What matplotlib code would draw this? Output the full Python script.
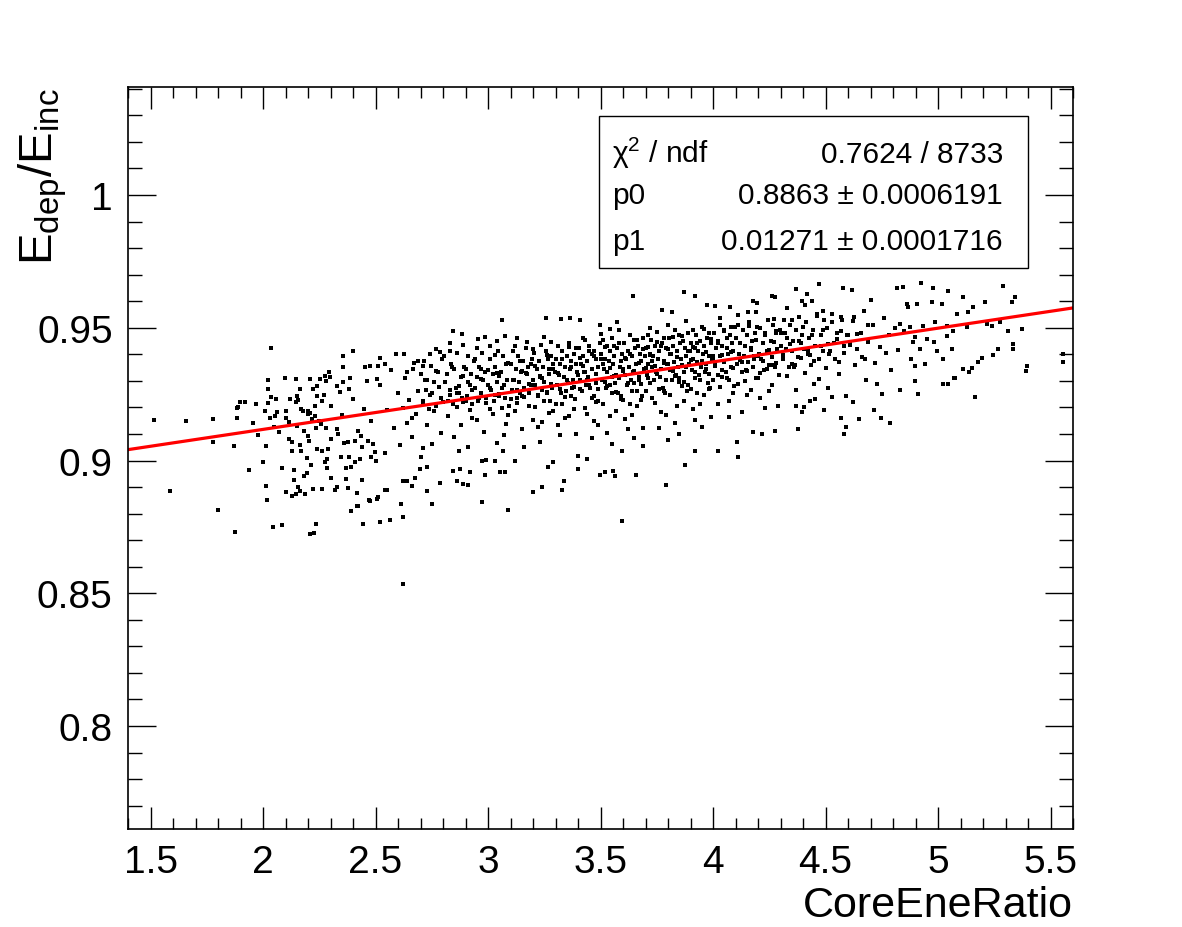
import matplotlib
matplotlib.use("Agg")
import matplotlib.pyplot as plt
from matplotlib.patches import Rectangle
from matplotlib.ticker import MultipleLocator
import numpy as np

plt.rcParams['font.family'] = ['Liberation Sans', 'DejaVu Sans']
plt.rcParams['mathtext.fontset'] = 'custom'
plt.rcParams['mathtext.rm'] = 'Liberation Sans'
plt.rcParams['mathtext.it'] = 'Liberation Sans:italic'
plt.rcParams['mathtext.bf'] = 'Liberation Sans:bold'

# fit result (from the stats box)
p0 = 0.8863
p1 = 0.01271
stat_names = ['\u03c7$^{2}$ / ndf', 'p0', 'p1']
stat_values = ['0.7624 / 8733', '0.8863 \u00b1 0.0006191', '0.01271 \u00b1 0.0001716']

# isolated points (CoreEneRatio, Edep/Einc)
tail_pts = [
    (1.517, .9151), (1.656, .9150), (1.778, .9156), (1.588, .8886), (1.798, .8814),
    (1.877, .8730), (1.776, .9068), (1.869, .9054), (2.034, .9425), (1.939, .8964),
    (1.999, .8993), (2.012, .8905), (2.016, .8853), (2.046, .8750), (2.084, .8758),
    (2.210, .8725), (2.227, .8726), (2.236, .8761), (2.621, .8535), (2.102, .8880),
    (2.127, .8867), (2.147, .8873), (2.164, .8886), (2.187, .8873), (2.083, .8971),
    (2.138, .8964), (2.013, .9056), (1.884, .9160), (1.890, .9200), (1.897, .9221),
    (1.919, .9221), (1.956, .9141), (1.978, .9097), (1.970, .9211), (2.007, .9187),
    (2.032, .9162), (2.052, .9169), (2.022, .9216), (2.104, .9188), (2.116, .9144),
    (2.071, .9108), (2.136, .8926), (2.114, .9081), (2.128, .9069), (2.130, .9037),
    (2.148, .9219), (2.169, .9194), (2.166, .9058), (2.170, .9037), (2.181, .8940),
    (2.196, .8953), (2.156, .8899), (2.197, .9011), (2.213, .8982), (2.207, .9179),
    (2.230, .9167), (2.181, .9113), (2.200, .9094), (2.203, .9075), (2.240, .9043),
    (2.222, .8891), (2.264, .8892), (2.234, .9122), (2.259, .9137), (2.281, .9123),
    (2.264, .9037), (2.274, .8993), (2.286, .9005), (2.284, .8971), (2.304, .8934),
    (2.318, .8890), (2.329, .8902), (2.370, .8930), (2.379, .8896), (2.419, .8876),
    (2.419, .8830), (2.390, .8811), (2.444, .8760), (2.472, .8850), (2.439, .8928),
    (2.370, .8971), (2.390, .8974), (2.348, .9012), (2.382, .9012), (2.407, .8993),
    (2.431, .9005), (2.304, .9081), (2.333, .9100), (2.378, .9068), (2.407, .9075),
    (2.437, .9094), (2.467, .9075), (2.489, .9062), (2.496, .9031), (2.504, .8999),
    (2.481, .9012), (2.024, .9303), (2.024, .9269), (2.036, .9238), (2.056, .9231),
    (2.061, .9181), (1.886, .9197), (2.098, .9309), (2.145, .9307), (2.164, .9269),
    (2.150, .9244), (2.157, .9229), (2.209, .9307), (2.239, .9281), (2.253, .9307),
    (2.276, .9319), (2.293, .9335), (2.298, .9313), (2.280, .9298), (2.357, .9395),
    (2.357, .9351), (2.399, .9414), (2.387, .9311), (2.357, .9294), (2.328, .9281),
    (2.342, .9257), (2.239, .9244), (2.261, .9225), (2.231, .9206), (2.201, .9175),
    (2.179, .9187), (2.216, .9156), (2.453, .9351), (2.476, .9355), (2.512, .9357),
    (2.520, .9388), (2.542, .9363), (2.505, .9307), (2.628, .9401), (2.843, .9486),
    (2.890, .9436), (2.883, .9476), (2.831, .9441), (2.957, .9457), (2.787, .9410),
    (2.794, .9382), (2.742, .9401), (2.690, .9376), (2.712, .9357), (2.665, .9344),
    (2.639, .9332), (2.624, .8924), (2.661, .8905), (2.728, .8886), (2.750, .8836),
    (2.787, .8917), (2.890, .8911), (2.912, .8908), (2.846, .8961), (2.876, .8968),
    (2.612, .8838), (2.621, .8789), (2.564, .8777), (2.520, .8767), (2.424, .8830),
    (2.476, .8849), (2.505, .8855), (2.550, .8890), (2.639, .8924), (2.676, .8936),
    (2.698, .8968), (2.728, .8974), (3.064, .9529), (3.258, .9537), (3.324, .9533),
    (3.364, .9537), (3.409, .9530), (2.987, .9464), (3.039, .9451), (3.076, .9470),
    (3.128, .9461), (3.172, .9445), (3.498, .9509), (3.542, .9495), (3.572, .9520),
    (2.542, .8890), (2.512, .8861), (2.975, .8842), (3.090, .8815), (2.864, .8924),
    (3.201, .8882), (3.241, .8902), (3.330, .8889), (3.336, .8922), (3.498, .8947),
    (3.520, .8956), (3.401, .8968), (3.439, .9005), (3.053, .8956), (3.076, .8958),
    (2.987, .8947), (3.643, .9621), (3.873, .9633), (3.920, .9618), (3.972, .9586),
    (4.009, .9581), (4.076, .9577), (4.176, .9602), (4.194, .9593), (4.157, .9560),
    (4.260, .9621), (4.276, .9615), (4.371, .9646), (4.416, .9627), (4.438, .9602),
    (4.394, .9600), (4.473, .9665), (3.772, .9568), (3.816, .9558), (3.009, .9432),
    (3.557, .8962), (3.564, .8941), (3.656, .8947), (3.790, .8907), (3.876, .8983),
    (3.920, .9037), (4.024, .9037), (4.105, .9068), (4.112, .9012), (4.276, .9113),
    (4.376, .9118), (4.179, .9106), (4.216, .9100), (2.972, .8999), (3.031, .8999),
    (3.068, .9037), (3.120, .8997), (2.920, .8956), (3.268, .8974), (3.290, .8993),
    (3.401, .9018), (3.594, .9037), (3.690, .9056), (3.801, .9079), (3.594, .8774),
    (4.579, .9650), (4.616, .9643), (4.816, .9650), (4.923, .9668), (4.979, .9650),
    (5.046, .9640), (5.290, .9658), (5.342, .9615), (5.327, .9596), (5.112, .9615),
    (5.209, .9596), (5.372, .9495), (5.312, .9489), (5.276, .9520), (5.239, .9508),
    (5.216, .9514), (5.333, .9439), (5.333, .9420), (5.268, .9420), (5.246, .9397),
    (5.194, .9388), (5.179, .9370), (5.394, .9357), (5.391, .9338), (5.557, .9401),
    (5.557, .9370), (5.153, .9347), (5.136, .9332), (5.112, .9344), (5.076, .9310),
    (5.046, .9288), (5.164, .9238), (4.846, .9652), (4.868, .9577), (4.905, .9589),
    (4.972, .9596), (5.016, .9589), (5.083, .9552), (5.135, .9558), (5.157, .9577),
    (4.831, .9514), (4.876, .9502), (4.935, .9508), (4.987, .9520), (5.039, .9508),
    (5.068, .9489), (5.127, .9502), (4.898, .9464), (4.950, .9457), (4.980, .9445),
    (5.039, .9470), (4.920, .9420), (4.994, .9414), (5.061, .9420), (4.898, .9357),
    (4.942, .9363), (5.024, .9382), (4.898, .9300), (4.913, .9250), (5.024, .9288),
    (5.073, .9309), (4.453, .9231), (4.620, .9221), (4.495, .9191), (4.404, .9200),
    (4.394, .9184), (4.569, .9160), (4.649, .9156), (4.716, .9191), (4.745, .9162),
    (4.787, .9141), (4.590, .9128), (4.581, .9101),
]

# broad band around the fit
core_pts = [
    (2.05, .9125), (2.10, .9160), (2.15, .9130), (2.20, .9185), (2.25, .9150),
    (2.30, .9205), (2.35, .9170), (2.40, .9230), (2.45, .9195), (2.48, .9150),
    (2.42, .9110), (2.33, .9120), (2.27, .9245), (2.38, .9270), (2.46, .9300),
    (2.22, .9270), (2.12, .9230), (2.36, .9065), (2.44, .9050), (2.29, .9045),
    (2.52, .9285), (2.55, .9190), (2.57, .9342), (2.58, .9121), (2.60, .9256),
    (2.61, .9058), (2.62, .9198), (2.63, .9311), (2.64, .9142), (2.65, .9227),
    (2.66, .9088), (2.67, .9369), (2.68, .9175), (2.69, .9262), (2.70, .9015),
    (2.71, .9213), (2.72, .9305), (2.73, .9134), (2.74, .9248), (2.75, .9062),
    (2.76, .9187), (2.77, .9338), (2.78, .9276), (2.79, .9103), (2.80, .9221),
    (2.54, .9029), (2.59, .9402), (2.66, .9160), (2.71, .9049), (2.77, .9420),
    (2.81, .9295), (2.82, .9168), (2.83, .9246), (2.84, .9352), (2.85, .9087),
    (2.86, .9201), (2.87, .9279), (2.88, .9133), (2.89, .9318), (2.90, .9226),
    (2.91, .9052), (2.92, .9189), (2.93, .9264), (2.94, .9381), (2.95, .9152),
    (2.96, .9237), (2.97, .9306), (2.98, .9109), (2.99, .9215), (3.00, .9341),
    (3.01, .9272), (3.02, .9176), (3.03, .9248), (3.04, .9067), (3.05, .9317),
    (3.06, .9198), (3.07, .9285), (3.08, .9136), (3.09, .9369), (3.10, .9231),
    (2.83, .9412), (2.87, .9034), (2.91, .9297), (2.95, .9423), (2.99, .9003),
    (3.03, .9398), (3.07, .9095), (2.86, .9255), (2.93, .9161), (3.01, .9193),
    (3.05, .9252), (3.09, .9172), (2.97, .9345), (2.89, .9222), (3.04, .9329),
    (3.11, .9302), (3.12, .9187), (3.13, .9264), (3.14, .9375), (3.15, .9119),
    (3.16, .9241), (3.17, .9328), (3.18, .9206), (3.19, .9283), (3.20, .9153),
    (3.21, .9356), (3.22, .9248), (3.23, .9071), (3.24, .9312), (3.25, .9225),
    (3.26, .9397), (3.27, .9178), (3.28, .9290), (3.29, .9344), (3.30, .9211),
    (3.31, .9132), (3.32, .9268), (3.33, .9381), (3.34, .9239), (3.35, .9305),
    (3.36, .9167), (3.37, .9353), (3.38, .9276), (3.39, .9098), (3.40, .9322),
    (3.12, .9432), (3.16, .9052), (3.20, .9419), (3.24, .9146), (3.28, .9446),
    (3.32, .9095), (3.36, .9428), (3.13, .9215), (3.15, .9338), (3.18, .9289),
    (3.21, .9201), (3.23, .9317), (3.26, .9258), (3.29, .9186), (3.31, .9331),
    (3.34, .9162), (3.37, .9244), (3.39, .9362), (3.14, .9256), (3.19, .9364),
    (3.22, .9128), (3.27, .9346), (3.33, .9212), (3.38, .9195), (3.25, .9465),
    (3.41, .9271), (3.42, .9356), (3.43, .9198), (3.44, .9304), (3.45, .9412),
    (3.46, .9237), (3.47, .9149), (3.48, .9325), (3.49, .9268), (3.50, .9383),
    (3.51, .9214), (3.52, .9296), (3.53, .9102), (3.54, .9347), (3.55, .9253),
    (3.56, .9431), (3.57, .9186), (3.58, .9312), (3.59, .9375), (3.60, .9229),
    (3.61, .9158), (3.62, .9291), (3.63, .9402), (3.64, .9262), (3.65, .9338),
    (3.66, .9205), (3.67, .9366), (3.68, .9287), (3.69, .9124), (3.70, .9349),
    (3.42, .9461), (3.46, .9083), (3.50, .9478), (3.54, .9169), (3.58, .9492),
    (3.62, .9117), (3.66, .9455), (3.43, .9332), (3.45, .9285), (3.48, .9221),
    (3.51, .9362), (3.53, .9279), (3.56, .9318), (3.59, .9244), (3.61, .9387),
    (3.64, .9171), (3.67, .9302), (3.69, .9419), (3.44, .9176), (3.47, .9394),
    (3.52, .9427), (3.57, .9258), (3.60, .9336), (3.63, .9213), (3.68, .9228),
    (3.41, .9385), (3.49, .9132), (3.55, .9061), (3.65, .9085), (3.70, .9263),
    (3.71, .9312), (3.72, .9398), (3.73, .9236), (3.74, .9355), (3.75, .9447),
    (3.76, .9271), (3.77, .9183), (3.78, .9368), (3.79, .9305), (3.80, .9421),
    (3.81, .9248), (3.82, .9337), (3.83, .9142), (3.84, .9389), (3.85, .9294),
    (3.86, .9468), (3.87, .9226), (3.88, .9351), (3.89, .9413), (3.90, .9268),
    (3.91, .9195), (3.92, .9332), (3.93, .9441), (3.94, .9303), (3.95, .9376),
    (3.96, .9245), (3.97, .9407), (3.98, .9326), (3.99, .9164), (4.00, .9392),
    (3.72, .9498), (3.76, .9122), (3.80, .9512), (3.84, .9207), (3.88, .9524),
    (3.92, .9153), (3.96, .9496), (3.73, .9375), (3.75, .9326), (3.78, .9262),
    (3.81, .9401), (3.83, .9318), (3.86, .9359), (3.89, .9284), (3.91, .9428),
    (3.94, .9212), (3.97, .9343), (3.99, .9458), (3.74, .9216), (3.77, .9432),
    (3.82, .9465), (3.87, .9297), (3.90, .9378), (3.93, .9254), (3.98, .9269),
    (3.71, .9426), (3.79, .9171), (3.85, .9101), (3.95, .9128), (4.00, .9304),
    (4.01, .9356), (4.02, .9441), (4.03, .9278), (4.04, .9397), (4.05, .9488),
    (4.06, .9312), (4.07, .9224), (4.08, .9409), (4.09, .9347), (4.10, .9462),
    (4.11, .9289), (4.12, .9378), (4.13, .9183), (4.14, .9431), (4.15, .9336),
    (4.16, .9507), (4.17, .9267), (4.18, .9392), (4.19, .9454), (4.20, .9309),
    (4.21, .9236), (4.22, .9374), (4.23, .9482), (4.24, .9344), (4.25, .9417),
    (4.26, .9286), (4.27, .9448), (4.28, .9367), (4.29, .9205), (4.30, .9433),
    (4.03, .9537), (4.07, .9163), (4.11, .9549), (4.15, .9248), (4.19, .9558),
    (4.23, .9196), (4.27, .9532), (4.04, .9316), (4.06, .9423), (4.09, .9255),
    (4.13, .9372), (4.17, .9415), (4.21, .9329), (4.25, .9261), (4.28, .9486),
    (4.02, .9213), (4.08, .9503), (4.14, .9298), (4.20, .9395), (4.26, .9361),
    (4.31, .9398), (4.32, .9482), (4.33, .9319), (4.34, .9437), (4.35, .9528),
    (4.36, .9351), (4.37, .9265), (4.38, .9449), (4.39, .9386), (4.40, .9503),
    (4.41, .9328), (4.42, .9417), (4.43, .9224), (4.44, .9471), (4.45, .9375),
    (4.46, .9545), (4.47, .9306), (4.48, .9432), (4.49, .9493), (4.50, .9348),
    (4.51, .9272), (4.52, .9413), (4.53, .9521), (4.54, .9383), (4.55, .9456),
    (4.56, .9325), (4.57, .9487), (4.58, .9406), (4.59, .9244), (4.60, .9472),
    (4.33, .9574), (4.37, .9205), (4.41, .9586), (4.45, .9289), (4.49, .9562),
    (4.53, .9238), (4.57, .9541), (4.35, .9362), (4.43, .9398), (4.51, .9437),
    (4.61, .9436), (4.62, .9524), (4.63, .9358), (4.64, .9475), (4.66, .9391),
    (4.67, .9562), (4.68, .9303), (4.69, .9448), (4.71, .9512), (4.72, .9366),
    (4.73, .9287), (4.74, .9427), (4.76, .9538), (4.77, .9405), (4.78, .9471),
    (4.79, .9342), (4.81, .9499), (4.82, .9418), (4.83, .9265), (4.85, .9486),
    (4.86, .9591), (4.88, .9381), (4.89, .9447), (4.70, .9603), (4.75, .9251),
]

# darkest part of the band (sits a little above the fit line)
dense_pts = [
    (2.701, .9325), (2.709, .9225), (2.716, .9375), (2.724, .9265), (2.731, .9305), (2.738, .9195),
    (2.746, .9355), (2.753, .9255), (2.761, .9295), (2.768, .9205), (2.776, .9335), (2.791, .9235),
    (2.803, .9394), (2.809, .9294), (2.816, .9324), (2.822, .9224), (2.829, .9264), (2.836, .9364),
    (2.843, .9214), (2.851, .9344), (2.857, .9274), (2.864, .9404), (2.871, .9254), (2.879, .9314),
    (2.886, .9234), (2.894, .9354),
    (2.902, .9344), (2.907, .9244), (2.913, .9394), (2.919, .9284), (2.925, .9324), (2.931, .9214),
    (2.937, .9374), (2.943, .9274), (2.949, .9314), (2.955, .9224), (2.961, .9354), (2.967, .9254),
    (2.973, .9404), (2.979, .9304), (2.986, .9334), (2.993, .9234),
    (3.002, .9284), (3.008, .9384), (3.014, .9264), (3.020, .9324), (3.026, .9224), (3.032, .9354),
    (3.038, .9294), (3.044, .9414), (3.050, .9244), (3.056, .9334), (3.062, .9274), (3.068, .9394),
    (3.074, .9234), (3.080, .9364), (3.086, .9304), (3.093, .9204),
    (3.101, .9364), (3.106, .9264), (3.112, .9414), (3.117, .9304), (3.123, .9344), (3.128, .9234),
    (3.134, .9394), (3.139, .9294), (3.145, .9334), (3.150, .9244), (3.156, .9374), (3.161, .9274),
    (3.167, .9424), (3.172, .9324), (3.178, .9354), (3.183, .9254), (3.189, .9284), (3.195, .9384),
    (3.201, .9304), (3.206, .9404), (3.211, .9284), (3.216, .9344), (3.221, .9244), (3.226, .9374),
    (3.231, .9314), (3.236, .9434), (3.241, .9264), (3.246, .9354), (3.251, .9294), (3.256, .9414),
    (3.261, .9254), (3.266, .9384), (3.271, .9324), (3.276, .9224), (3.281, .9394), (3.286, .9274),
    (3.291, .9364), (3.296, .9334),
    (3.302, .9383), (3.307, .9283), (3.312, .9433), (3.317, .9323), (3.321, .9363), (3.326, .9253),
    (3.331, .9413), (3.336, .9313), (3.340, .9353), (3.345, .9263), (3.350, .9393), (3.355, .9293),
    (3.359, .9443), (3.364, .9343), (3.369, .9373), (3.374, .9273), (3.378, .9303), (3.383, .9403),
    (3.388, .9233), (3.393, .9423), (3.397, .9333),
    (3.401, .9323), (3.406, .9423), (3.410, .9303), (3.415, .9363), (3.419, .9263), (3.424, .9393),
    (3.428, .9333), (3.433, .9453), (3.437, .9283), (3.442, .9373), (3.446, .9313), (3.451, .9433),
    (3.455, .9273), (3.460, .9403), (3.464, .9343), (3.469, .9243), (3.473, .9413), (3.478, .9293),
    (3.482, .9383), (3.487, .9353), (3.491, .9223), (3.496, .9443),
    (3.501, .9403), (3.505, .9303), (3.510, .9453), (3.514, .9343), (3.518, .9383), (3.523, .9273),
    (3.527, .9433), (3.531, .9333), (3.536, .9373), (3.540, .9283), (3.544, .9413), (3.549, .9313),
    (3.553, .9463), (3.557, .9363), (3.562, .9393), (3.566, .9293), (3.570, .9323), (3.575, .9423),
    (3.579, .9253), (3.583, .9443), (3.588, .9353), (3.592, .9233), (3.597, .9403),
    (3.601, .9343), (3.605, .9443), (3.609, .9323), (3.613, .9383), (3.618, .9283), (3.622, .9413),
    (3.626, .9353), (3.630, .9473), (3.634, .9303), (3.638, .9393), (3.643, .9333), (3.647, .9453),
    (3.651, .9293), (3.655, .9423), (3.659, .9363), (3.663, .9263), (3.668, .9433), (3.672, .9313),
    (3.676, .9403), (3.680, .9373), (3.684, .9243), (3.688, .9463), (3.693, .9343), (3.697, .9393),
    (3.701, .9423), (3.705, .9323), (3.709, .9473), (3.713, .9363), (3.718, .9403), (3.722, .9293),
    (3.726, .9453), (3.730, .9353), (3.734, .9393), (3.738, .9303), (3.743, .9433), (3.747, .9333),
    (3.751, .9483), (3.755, .9383), (3.759, .9413), (3.763, .9313), (3.768, .9343), (3.772, .9443),
    (3.776, .9273), (3.780, .9463), (3.784, .9373), (3.788, .9253), (3.793, .9423), (3.797, .9363),
    (3.801, .9362), (3.805, .9462), (3.809, .9342), (3.813, .9402), (3.818, .9302), (3.822, .9432),
    (3.826, .9372), (3.830, .9492), (3.834, .9322), (3.838, .9412), (3.843, .9352), (3.847, .9472),
    (3.851, .9312), (3.855, .9442), (3.859, .9382), (3.863, .9282), (3.868, .9452), (3.872, .9332),
    (3.876, .9422), (3.880, .9392), (3.884, .9262), (3.888, .9482), (3.893, .9362), (3.897, .9412),
    (3.901, .9442), (3.905, .9342), (3.909, .9492), (3.913, .9382), (3.918, .9422), (3.922, .9312),
    (3.926, .9472), (3.930, .9372), (3.934, .9412), (3.938, .9322), (3.943, .9452), (3.947, .9352),
    (3.951, .9502), (3.955, .9402), (3.959, .9432), (3.963, .9332), (3.968, .9362), (3.972, .9462),
    (3.976, .9292), (3.980, .9482), (3.984, .9392), (3.988, .9272), (3.993, .9442), (3.997, .9382),
    (4.002, .9382), (4.006, .9482), (4.011, .9362), (4.015, .9422), (4.020, .9322), (4.024, .9452),
    (4.029, .9392), (4.033, .9512), (4.038, .9342), (4.042, .9432), (4.047, .9372), (4.051, .9492),
    (4.056, .9332), (4.060, .9462), (4.065, .9402), (4.069, .9302), (4.074, .9472), (4.078, .9352),
    (4.083, .9442), (4.087, .9412), (4.092, .9282), (4.096, .9502),
    (4.102, .9462), (4.107, .9362), (4.112, .9512), (4.117, .9402), (4.122, .9442), (4.127, .9332),
    (4.132, .9492), (4.137, .9392), (4.142, .9432), (4.147, .9342), (4.152, .9472), (4.157, .9372),
    (4.162, .9522), (4.167, .9422), (4.172, .9452), (4.177, .9352), (4.182, .9382), (4.187, .9482),
    (4.192, .9312), (4.197, .9502),
    (4.203, .9401), (4.209, .9501), (4.215, .9381), (4.221, .9441), (4.227, .9341), (4.233, .9471),
    (4.239, .9411), (4.245, .9531), (4.250, .9361), (4.256, .9451), (4.262, .9391), (4.268, .9511),
    (4.274, .9351), (4.280, .9481), (4.286, .9421), (4.292, .9321), (4.297, .9491),
    (4.303, .9481), (4.310, .9381), (4.316, .9531), (4.323, .9421), (4.330, .9461), (4.336, .9351),
    (4.343, .9511), (4.350, .9411), (4.356, .9451), (4.363, .9361), (4.370, .9491), (4.376, .9391),
    (4.383, .9541), (4.390, .9441), (4.396, .9471),
    (4.404, .9421), (4.412, .9521), (4.420, .9401), (4.428, .9461), (4.437, .9361), (4.445, .9491),
    (4.453, .9431), (4.462, .9551), (4.470, .9381), (4.478, .9471), (4.487, .9411), (4.495, .9531),
    (4.505, .9501), (4.516, .9401), (4.527, .9551), (4.538, .9441), (4.550, .9481), (4.561, .9371),
    (4.572, .9531), (4.583, .9431), (4.594, .9471),
    (4.608, .9441), (4.625, .9541), (4.641, .9421), (4.658, .9481), (4.675, .9381), (4.691, .9511),
]

xmin, xmax = 1.4, 5.6
ymin, ymax = 0.7612, 1.0407

sparse = np.array(tail_pts + core_pts)
dense = np.array(dense_pts)

fig = plt.figure(figsize=(11.82, 9.28), dpi=100)
ax = fig.add_axes([0.1083, 0.1056, 0.7995, 0.7996])

ax.scatter(sparse[:, 0], sparse[:, 1], s=5, marker='s', c='black', linewidths=0)
# each dot in the darkest band stands for several overlapping events
ax.scatter(dense[:, 0], dense[:, 1], s=8, marker='s', c='black', linewidths=0)

# fitted straight line p0 + p1*x across the frame
ax.plot([xmin, xmax], [p0 + p1 * xmin, p0 + p1 * xmax], color='#ff0000', lw=2.3)

ax.set_xlim(xmin, xmax)
ax.set_ylim(ymin, ymax)
ax.xaxis.set_major_locator(MultipleLocator(0.5))
ax.xaxis.set_minor_locator(MultipleLocator(0.1))
ax.yaxis.set_major_locator(MultipleLocator(0.05))
ax.yaxis.set_minor_locator(MultipleLocator(0.01))
ax.xaxis.set_major_formatter(lambda v, pos: f'{v:g}')
ax.yaxis.set_major_formatter(lambda v, pos: f'{v:g}')

ax.tick_params(which='both', direction='in', top=True, right=True, width=1)
ax.tick_params(axis='x', which='major', length=16, labelsize=28, pad=11)
ax.tick_params(axis='x', which='minor', length=8)
ax.tick_params(axis='y', which='major', length=20, labelsize=28, pad=11)
ax.tick_params(axis='y', which='minor', length=10)
for sp in ax.spines.values():
    sp.set_linewidth(1.2)

ax.set_xlabel('CoreEneRatio', fontsize=31, loc='right')
ax.xaxis.set_label_coords(1.0, -0.117)
ax.xaxis.label.set_verticalalignment('baseline')

ax.set_ylabel(r'$\mathrm{E_{dep}/E_{inc}}$', fontsize=34, loc='top')
ax.yaxis.set_label_coords(-0.0794, 1.0)
ax.yaxis.label.set_verticalalignment('baseline')

# stats box
fig.patches.append(Rectangle((599 / 1182, 1 - 269 / 928), 429 / 1182, 152 / 928,
                             transform=fig.transFigure, facecolor='white',
                             edgecolor='black', lw=1.0, zorder=5))
row_y = [1 - 163 / 928, 1 - 204 / 928, 1 - 250 / 928]
for name, val, yy in zip(stat_names, stat_values, row_y):
    fig.text(612 / 1182, yy, name, fontsize=21.5, ha='left', va='baseline', zorder=6)
    fig.text(1003 / 1182, yy, val, fontsize=21.5, ha='right', va='baseline', zorder=6)

fig.savefig('out.png', dpi=100)
